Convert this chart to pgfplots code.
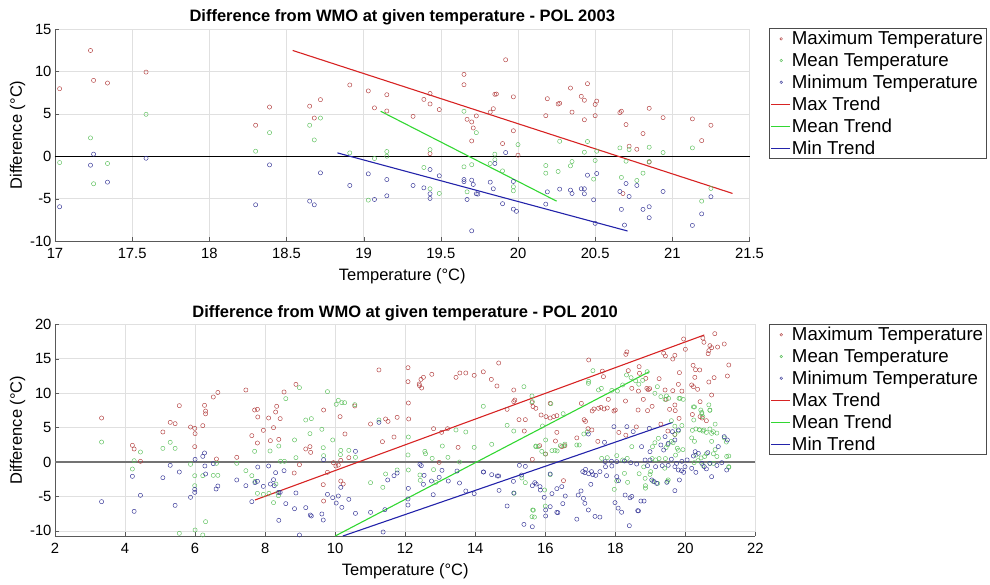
\documentclass[border=0pt]{standalone}
\usepackage{fontspec}
\setmainfont{Liberation Sans}
\usepackage{pgfplots}
\pgfplotsset{compat=1.18}
\definecolor{mred}{RGB}{178,62,62}
\definecolor{mgreen}{RGB}{92,192,92}
\definecolor{mblue}{RGB}{52,52,150}
\definecolor{lred}{RGB}{215,35,35}
\definecolor{lgreen}{RGB}{50,215,50}
\definecolor{lblue}{RGB}{35,35,170}
\pgfplotsset{
  scat/.style={only marks, mark=o, mark size=2.1pt, line width=0.45pt,
    legend image code/.code={\draw[##1, mark size=1.3pt] plot coordinates {(10pt,0pt)};}},
  trend/.style={line width=1.1pt, no marks, color=#1,
    legend image code/.code={\draw[#1, line width=1pt] (0pt,0pt) -- (19pt,0pt);}},
  mystyle/.style={
    scale only axis,
    axis lines=left,
    axis line style={-, black!65},
    tick align=inside,
    major tick length=4pt,
    tick style={black!65},
    grid=major,
    major grid style={black!12, line width=0.5pt},
    /pgf/number format/assume math mode=true,
    tick label style={font=\fontsize{14.8}{17}\selectfont},
    xticklabel style={yshift=-4pt},
    label style={font=\fontsize{16.5}{19}\selectfont},
    title style={font=\fontsize{16.5}{19}\selectfont\bfseries, yshift=-6pt},
    clip=false,
    legend cell align=left,
    legend style={anchor=north west, draw=black!70, line width=0.5pt,
      font=\fontsize{18.7}{21}\selectfont, inner sep=1.5pt, row sep=4.6pt,
      nodes={inner sep=1.2pt}},
    xlabel style={yshift=-3pt},
    ylabel style={yshift=-2pt},
  }
}
\begin{document}
\begin{tikzpicture}
\path[use as bounding box] (0pt,0pt) rectangle (990pt,-584pt);
% ---------------- TOP ----------------
\begin{axis}[mystyle,
  at={(55pt,-29pt)}, anchor=north west,
  width=694.5pt, height=212pt,
  xmin=17, xmax=21.5, ymin=-10, ymax=15,
  xtick={17,17.5,18,18.5,19,19.5,20,20.5,21,21.5},
  xticklabels={17,17.5,18,18.5,19,19.5,20,20.5,21,21.5},
  ytick={-10,-5,0,5,10,15},
  title={Difference from WMO at given temperature - POL 2003},
  xlabel={Temperature (°C)}, ylabel={Difference (°C)},
  legend style={at={(1.028,1.003)}},
]
\addplot[scat, mred] coordinates {
(17.03,7.96) (17.23,12.47) (17.25,8.94) (17.34,8.63) (17.59,9.92) (18.30,3.65) (18.39,5.8) (18.65,5.9)
(18.68,4.5) (18.72,6.67) (18.91,8.4) (19.03,7.7) (19.07,5.7) (19.15,7.25) (19.15,5.33) (19.32,4.7)
(19.39,6.7) (19.43,7.4) (19.43,6.16) (19.49,5.5) (19.43,0.3) (19.65,9.65) (19.65,8.43) (19.67,4.35)
(19.70,4.04) (19.71,3.33) (19.70,1.8) (19.73,4.75) (19.85,7.3) (19.84,5.6) (19.82,5.2) (19.92,11.37)
(19.86,7.33) (19.97,7.0) (19.97,3.0) (19.90,1.49) (20.0,0.12) (20.19,6.78) (20.18,4.78) (20.26,6.16)
(20.27,6.24) (20.34,8.04) (20.35,5.2) (20.41,7.06) (20.43,6.6) (20.45,8.55) (20.43,4.3) (20.50,6.1)
(20.51,6.5) (20.50,4.78) (20.66,5.14) (20.67,5.3) (20.70,3.73) (20.72,1.18) (20.77,0.82) (20.81,2.67)
(20.85,5.65) (20.94,4.55) (20.85,-0.7) (20.68,-4.4) (21.13,4.4) (21.19,1.84) (21.25,3.65)
};
\addlegendentry{Maximum Temperature}
\addplot[scat, mgreen] coordinates {
(17.03,-0.75) (17.23,2.16) (17.25,-3.25) (17.34,-0.86) (17.59,4.94) (18.30,0.59) (18.39,2.78) (18.65,3.65)
(18.72,4.5) (18.68,1.92) (18.91,0.39) (19.03,-5.18) (19.07,-0.27) (19.15,0.55) (19.15,0.0) (19.39,-1.33)
(19.43,0.78) (19.43,-3.84) (19.49,-4.39) (19.65,5.3) (19.65,-1.25) (19.70,-1.0) (19.67,-4.2) (19.73,2.78)
(19.85,0.24) (19.82,-0.86) (19.85,-0.4) (19.90,-1.73) (20.0,1.37) (19.97,-3.6) (19.97,-4.08) (20.18,-1.1)
(20.18,-2.0) (20.26,-1.8) (20.27,1.76) (20.35,-0.63) (20.34,-1.14) (20.43,0.47) (20.45,1.73) (20.50,-0.5)
(20.49,-2.7) (20.51,0.59) (20.66,0.98) (20.67,-2.5) (20.70,-0.59) (20.72,0.78) (20.77,-2.86) (20.81,-2.0)
(20.85,1.06) (20.85,-0.63) (20.94,0.43) (21.13,0.98) (21.19,-5.3) (21.25,-3.8)
};
\addlegendentry{Mean Temperature}
\addplot[scat, mblue] coordinates {
(17.03,-5.96) (17.23,-1.06) (17.25,0.24) (17.34,-3.06) (17.59,-0.24) (18.30,-5.73) (18.39,-1.02) (18.65,-5.3)
(18.68,-5.73) (18.72,-1.96) (18.91,-3.45) (19.03,-2.08) (19.07,-5.1) (19.15,-2.75) (19.15,-4.67) (19.32,-3.45)
(19.39,-3.73) (19.43,-1.57) (19.43,-4.43) (19.43,-4.98) (19.49,-2.31) (19.65,-2.75) (19.65,-3.0) (19.70,-2.82)
(19.71,-3.33) (19.67,-5.1) (19.73,-4.43) (19.70,-8.8) (19.82,-3.06) (19.85,-0.86) (19.84,-3.84) (19.74,-4.47)
(19.92,0.43) (19.90,-5.6) (19.97,-2.98) (19.97,-6.24) (19.99,-6.5) (20.18,-5.65) (20.19,-4.2) (20.27,-3.88)
(20.34,-4.0) (20.35,-4.4) (20.41,-3.84) (20.43,-3.84) (20.43,-4.43) (20.45,-2.24) (20.51,-2.04) (20.49,-5.14)
(20.50,-7.92) (20.66,-4.16) (20.67,-6.27) (20.69,-8.12) (20.70,-3.22) (20.72,-4.75) (20.77,-3.45) (20.81,-6.27)
(20.85,-5.96) (20.85,-7.25) (20.94,-4.16) (21.13,-8.16) (21.19,-6.8) (21.25,-4.78)
};
\addlegendentry{Minimum Temperature}
\addplot[forget plot, black, line width=0.7pt] coordinates {(17,0) (21.5,0)};
\addplot[trend=lred] coordinates {(18.54,12.47) (21.39,-4.39)};
\addlegendentry{Max Trend}
\addplot[trend=lgreen] coordinates {(19.11,5.3) (20.25,-5.3)};
\addlegendentry{Mean Trend}
\addplot[trend=lblue] coordinates {(18.83,0.39) (20.71,-8.82)};
\addlegendentry{Min Trend}
\end{axis}
% ---------------- BOTTOM ----------------
\begin{axis}[mystyle,
  at={(55pt,-324.3pt)}, anchor=north west,
  width=700.4pt, height=211.7pt,
  xmin=2, xmax=22, ymin=-10.75, ymax=20,
  xtick={2,4,...,22},
  ytick={-10,-5,0,5,10,15,20},
  title={Difference from WMO at given temperature - POL 2010},
  xlabel={Temperature (°C)}, ylabel={Difference (°C)},
  legend style={at={(1.0194,1.0)}},
]
\addplot[scat, mred] coordinates {
(3.33,6.39) (4.21,2.42) (4.26,1.89) (4.44,0.1) (5.08,4.36) (5.29,5.76) (5.43,5.57) (5.55,8.18)
(5.87,5.08) (5.99,4.89) (6.0,4.12) (5.99,2.23) (6.22,5.28) (6.27,8.23) (6.30,7.4) (6.30,7.0)
(6.52,9.44) (6.65,10.1) (6.61,0.44) (7.19,0.68) (7.45,10.46) (7.70,7.55) (7.78,7.65) (7.79,6.54)
(7.62,3.83) (7.78,2.76) (7.95,4.6) (8.10,6.39) (8.15,3.1) (8.24,4.99) (8.30,7.26) (8.33,8.09)
(8.43,6.3) (8.39,3.29) (8.54,10.17) (8.88,11.28) (8.83,-1.6) (8.98,-0.39) (9.16,1.89) (9.28,2.23)
(9.30,1.4) (9.67,7.55) (9.66,-3.29) (9.67,-5.67) (9.78,-1.5) (9.95,-0.1) (10.02,-0.58) (10.09,-0.44)
(10.14,6.59) (10.16,-2.76) (10.23,-3.2) (10.28,4.07) (10.39,0.63) (10.16,0.24) (10.56,8.14) (11.01,5.52)
(11.25,13.37) (11.35,2.95) (11.44,6.25) (11.51,5.9) (11.68,3.63) (11.77,6.49) (12.08,13.7) (12.08,11.67)
(12.09,8.57) (12.10,6.25) (12.40,11.33) (12.45,12.0) (12.52,12.3) (12.41,11.09) (12.47,10.75) (12.76,12.74)
(12.81,4.84) (12.97,-0.05) (13.04,4.31) (13.21,4.84) (13.45,12.3) (13.56,12.93) (13.73,12.93) (13.97,12.59)
(13.51,2.13) (14.23,13.1) (14.46,12.0) (14.62,11.04) (14.67,14.38) (14.91,7.65) (15.10,10.46) (15.10,8.77)
(15.13,9.0) (15.25,6.15) (15.43,6.15) (15.40,4.5) (15.62,8.62) (15.65,8.04) (15.73,7.8) (15.63,0.39)
(15.84,2.37) (15.88,6.83) (16.02,6.59) (16.14,6.39) (16.14,8.52) (16.24,6.59) (16.33,6.73) (16.33,4.31)
(16.01,1.16) (16.29,3.05) (16.47,2.23) (16.56,2.37) (16.52,-2.71)
(17.24,14.82) (17.03,8.52) (17.11,6.15) (17.15,5.9) (17.22,4.84) (17.33,4.65) (17.34,7.41) (17.39,7.7)
(17.52,7.8) (17.59,7.94) (17.68,7.7) (17.77,7.85) (17.96,7.41) (18.0,7.55) (17.66,12.4) (18.30,15.64)
(18.33,16.0) (17.80,9.1) (18.37,13.27) (18.68,13.85) (18.69,12.88) (18.29,8.86) (18.47,10.7) (18.66,10.3)
(18.80,9.1) (18.90,10.7) (18.94,10.5) (18.87,12.15) (18.65,7.55) (18.92,7.46) (19.05,8.09) (19.25,12.1)
(19.38,15.8) (19.43,15.4) (19.42,10.46) (19.45,9.1) (19.64,14.96) (19.70,15.5) (19.55,7.65) (19.64,10.36)
(19.83,12.98) (19.80,11.28) (19.90,10.3) (19.70,8.28) (19.71,7.46) (19.82,6.34) (19.95,17.87) (20.0,16.37)
(20.22,14.04) (20.29,13.41) (20.41,13.37) (20.18,11.19) (20.23,10.94) (20.42,8.76) (20.42,6.59) (20.48,6.39)
(20.35,10.56) (20.27,12.3) (20.53,17.39) (20.50,18.0) (20.65,15.74) (20.67,16.17) (20.70,16.9) (20.84,18.64)
(20.75,16.61) (20.92,16.7) (21.11,17.14) (20.82,12.25) (20.67,11.62) (20.75,9.73) (21.20,12.49) (21.24,14.09)
(18.1,4.3) (18.3,3.9) (19.7,4.0) (18.6,5.1) (19.3,5.5) (19.5,4.5) (20.2,6.9) (20.6,6.0) (17.5,3.0) (16.9,3.5)
(17.63,13.2) (18.98,10.65)
};
\addlegendentry{Maximum Temperature}
\addplot[scat, mgreen] coordinates {
(3.33,2.9) (4.21,-1.02) (4.26,0.19) (4.44,1.45) (5.08,1.98) (5.29,2.86) (5.43,1.98) (5.87,-0.34)
(5.99,-1.99) (5.99,-3.44) (6.0,-9.88) (6.22,-1.99) (6.30,-8.67) (6.52,-1.94) (6.65,-1.94) (5.55,-10.36)
(6.22,-10.6) (6.61,-0.2) (7.19,-0.19) (7.45,-1.26) (7.62,-1.99) (7.71,-2.81) (7.78,-4.55) (7.95,-4.7)
(8.11,-4.55) (8.14,1.6) (7.70,1.55) (8.31,-3.2) (8.36,-4.46) (8.38,-4.89) (8.39,2.32) (8.24,-5.9)
(8.44,0.1) (8.55,0.1) (8.59,9.2) (8.98,10.8) (8.84,3.2) (8.88,0.63) (9.16,6.1) (9.32,6.3)
(9.28,4.12) (9.62,4.75) (9.66,2.08) (9.67,0.92) (9.78,10.22) (9.93,3.2) (10.03,8.38) (10.09,8.96)
(10.19,8.62) (10.27,8.62) (10.16,1.69) (10.15,1.07) (10.39,1.69) (10.58,0.68) (10.56,8.33) (11.01,-3.0)
(11.25,6.1) (11.36,-3.68) (11.44,-1.74) (11.77,-1.16) (12.09,3.63) (12.08,1.02) (12.09,-1.16) (12.42,-1.89)
(12.43,-2.66) (12.56,1.55) (12.58,1.21) (12.77,0.53) (12.81,-1.11) (12.88,-2.95) (13.06,2.32) (13.22,0.68)
(13.45,4.65) (13.55,0.0) (13.73,4.36) (13.97,2.13) (14.23,8.09) (14.47,2.57) (14.91,5.33) (15.10,4.5)
(15.11,-4.55) (15.33,-2.32) (15.39,10.94) (15.62,9.59) (15.63,8.77) (15.43,-3.0) (15.64,-6.97) (15.62,-7.94)
(15.73,2.23) (15.90,1.55) (16.01,3.2) (16.19,1.65) (16.28,1.69) (16.34,1.6) (16.16,8.47) (15.92,5.23)
(16.14,-1.84) (16.51,7.02) (16.53,2.32)
(17.36,13.27) (17.24,11.72) (17.23,11.43) (17.52,10.46) (17.60,10.7) (17.90,10.41) (18.06,10.31) (18.21,11.19)
(18.32,12.64) (18.91,13.12) (18.78,11.86) (19.13,9.98) (19.20,10.94) (19.30,9.49) (19.42,9.1) (19.85,9.25)
(19.94,9.1) (19.6,6.0) (19.7,5.2) (19.9,5.3) (19.8,4.5) (19.7,4.0) (19.6,3.0) (19.5,2.5)
(19.45,2.1) (20.23,8.0) (20.24,6.1) (20.44,7.55) (20.47,7.2) (20.67,8.3) (20.70,7.5) (20.2,4.6)
(20.3,4.8) (20.4,4.7) (20.5,4.5) (20.6,4.3) (20.7,4.8) (20.8,4.4) (20.9,4.2) (20.18,3.5)
(20.26,3.0) (20.75,3.0) (20.85,1.8) (20.45,0.6) (20.55,0.8) (20.3,1.0) (20.9,0.8) (21.18,0.8)
(21.24,-0.68) (17.1,4.07) (17.2,4.4) (16.9,2.47) (16.56,2.6) (16.97,2.47) (17.61,0.53) (17.77,0.63)
(18.04,0.92) (18.21,0.29) (18.34,0.53) (18.47,2.23) (19.06,2.23) (19.13,2.8) (19.23,3.44) (18.26,-1.65)
(18.35,-2.95) (18.04,-2.76) (18.85,-2.37) (19.01,-1.4) (18.86,-3.44) (18.86,-3.8) (17.97,-3.97) (19.05,0.5)
(19.15,0.3) (19.25,0.5) (19.43,0.5) (19.41,-0.9) (19.51,-2.6) (20.25,-0.1) (20.36,0.2) (20.5,-0.5)
(20.7,-0.2) (20.8,-0.2) (20.8,1.2) (20.6,1.2)
(18.45,12.25) (18.58,11.8) (18.67,11.3) (19.46,9.6) (19.52,9.25) (19.82,9.25) (20.26,8.0) (20.47,7.0)
(20.5,6.6) (20.7,7.55) (20.41,4.65) (20.53,4.65) (20.75,4.16) (20.85,5.5) (21.11,3.5) (21.17,2.9)
(21.24,0.87) (21.24,-0.77) (19.65,2.8) (19.77,2.0) (19.72,1.0) (19.8,1.7) (19.93,1.8) (18.68,-1.7)
(18.81,-0.7) (18.99,-1.8) (19.07,-2.8) (19.21,-3.1) (19.49,-2.8) (15.66,-7.0) (15.69,-8.0) (16.0,-6.4)
(15.98,-4.07) (15.73,2.32) (15.8,2.23) (16.0,1.16) (16.43,2.37)
};
\addlegendentry{Mean Temperature}
\addplot[scat, mblue] coordinates {
(3.33,-5.76) (4.21,-2.08) (4.26,-7.17) (4.44,-4.84) (5.08,-2.28) (5.29,-0.48) (5.43,-6.3) (5.55,-1.45)
(5.87,-5.13) (5.99,-3.97) (5.99,-4.41) (6.0,0.39) (6.22,0.82) (6.27,1.31) (6.28,-0.58) (6.30,-1.74)
(6.52,-0.24) (6.60,-3.92) (6.65,-3.49) (7.19,-2.61) (7.45,-3.44) (7.62,-5.76) (7.71,-3.0) (7.78,-2.81)
(7.79,-0.73) (7.95,-3.54) (8.10,-0.58) (8.15,-3.2) (8.24,-2.57) (8.30,-1.55) (8.26,-3.44) (8.39,-4.41)
(8.43,-4.41) (8.39,-8.47) (8.54,-1.26) (8.59,-6.05) (8.88,-4.5) (8.84,-6.78) (8.98,-10.6) (9.16,-6.63)
(9.29,-7.7) (9.32,-7.84) (9.62,-7.55) (9.67,0.34) (9.66,-8.43) (9.78,-4.7) (9.93,-5.18) (10.03,-5.96)
(10.09,-4.94) (10.16,-3.68) (10.19,-6.59) (10.39,-5.42) (10.58,1.55) (10.58,-7.46) (11.01,-7.31) (11.25,5.76)
(11.42,-6.92) (11.50,-2.61) (11.68,-1.99) (11.77,-1.6) (11.37,-10.17) (12.09,-3.83) (12.08,-5.37) (12.08,-6.25)
(12.42,-0.34) (12.46,-0.53) (12.54,-1.94) (12.52,-3.24) (12.75,-2.76) (12.80,-4.75) (12.97,-2.23) (13.05,-1.21)
(13.23,-2.76) (13.55,-3.05) (13.48,-1.31) (13.73,-4.21) (13.97,-4.6) (14.23,-1.45) (14.47,-1.84) (14.63,-2.03)
(14.67,-2.03) (14.68,-4.12) (14.91,-6.39) (15.09,-2.81) (15.10,-4.5) (15.26,-0.48) (15.43,-0.63) (15.32,-1.89)
(15.39,-9.06) (15.63,-9.4) (15.63,-3.44) (15.74,-3.2) (15.86,-4.07) (15.97,-5.13) (16.01,-6.97) (16.01,-7.84)
(16.14,-6.49) (16.19,-4.6) (16.33,-3.87) (16.47,-3.58) (16.33,-7.31) (16.50,-6.05) (16.57,-4.94) (16.14,-1.74)
(17.23,-6.97) (17.3,-3.24) (17.02,-4.2) (16.94,-4.8) (17.09,-5.28) (17.13,-6.0) (16.9,-8.3) (17.42,-7.9)
(17.56,-8.0) (17.99,-5.9) (18.08,-6.7) (18.18,-7.3) (18.28,-4.8) (18.42,-5.2) (18.73,-5.67) (18.82,-5.67)
(18.66,-7.1) (18.4,-9.25) (18.04,-2.13) (18.09,-2.71) (17.75,-1.99) (17.56,-1.4) (17.44,-1.94) (17.32,-1.4)
(17.15,-1.07) (17.72,-0.68) (17.90,-0.58) (18.04,0.05) (18.26,0.15) (18.44,-0.1) (18.61,-0.29) (18.85,0.29)
(18.92,-0.53) (18.99,0.29) (19.15,-0.68) (19.34,-0.53) (19.51,-0.48) (19.70,-0.68) (19.80,-1.16) (19.89,-1.26)
(19.99,-0.68) (20.18,-0.92) (20.23,0.87) (20.28,1.5) (20.37,1.26) (20.47,-0.19) (20.54,-0.68) (20.64,1.36)
(20.70,-0.19) (20.75,-2.13) (20.94,2.23) (21.04,-0.1) (21.11,3.68) (21.18,-1.16) (21.2,3.2) (18.33,5.13)
(18.51,4.41) (18.97,4.89) (19.42,3.68) (19.51,2.71) (19.70,3.2) (19.80,4.65) (19.63,4.41) (17.69,2.86)
(19.04,-2.61) (19.11,-2.86) (19.18,-3.1) (19.47,-2.95) (19.70,-4.16) (19.83,-2.61) (18.75,2.23) (18.99,1.5)
(19.30,2.47) (19.38,1.74) (17.96,5.13) (17.23,4.07) (17.07,-1.4) (17.13,-1.55) (17.24,-1.7) (17.36,-1.84)
(17.71,0.05) (17.89,0.1) (18.47,-5.0) (18.64,-7.07) (14.24,-1.45) (15.7,-3.0) (15.85,-3.58) (16.36,-7.36)
(19.6,0.4) (19.75,-0.2) (19.9,0.1) (20.05,0.3) (20.9,-0.5) (20.3,-1.5) (20.6,-1.0) (19.95,-1.5)
};
\addlegendentry{Minimum Temperature}
\addplot[forget plot, black!55, line width=1.6pt] coordinates {(2,0) (22,0)};
\addplot[trend=lred] coordinates {(7.71,-5.52) (20.54,18.45)};
\addlegendentry{Max Trend}
\addplot[trend=lgreen] coordinates {(10.0,-10.75) (18.97,13.12)};
\addlegendentry{Mean Trend}
\addplot[trend=lblue] coordinates {(10.22,-10.75) (19.64,5.76)};
\addlegendentry{Min Trend}
\end{axis}
\end{tikzpicture}
\end{document}
